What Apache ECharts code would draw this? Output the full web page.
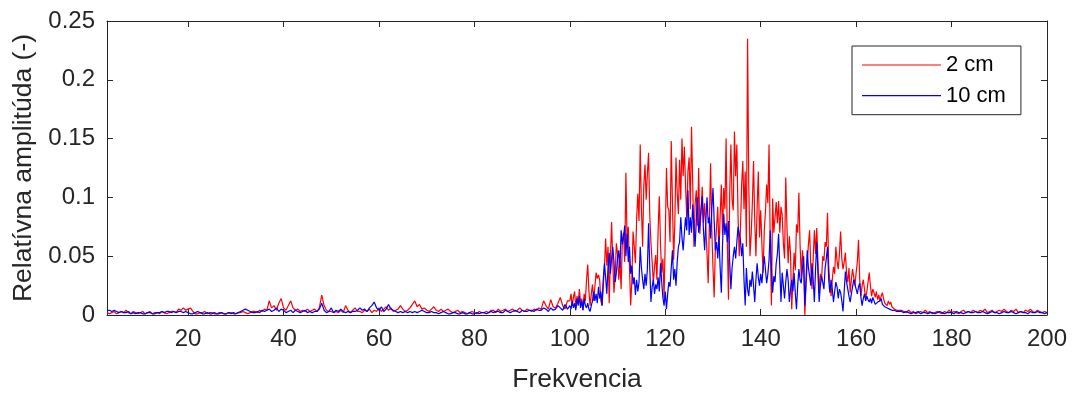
<!DOCTYPE html>
<html>
<head>
<meta charset="utf-8">
<script src="https://cdn.jsdelivr.net/npm/echarts@6/dist/echarts.min.js"></script>
<style>
html,body{margin:0;padding:0;background:#fff;}
#chart{width:1072px;height:398px;}
</style>
</head>
<body>
<div id="chart"></div>
<script>
// Frequency grids (start, step) for the three sampled segments
const lowStart = 3, lowStep = 0.5;      // 3 .. 99.5
const midStart = 100, midStep = 0.25;   // 100 .. 169.75
const highStart = 170, highStep = 0.5;  // 170 .. 200

const seriesNames = ['2 cm', '10 cm'];
const xTicks = [20, 40, 60, 80, 100, 120, 140, 160, 180, 200];
const yTicks = [0, 0.05, 0.1, 0.15, 0.2, 0.25];

// 2 cm (red)
const red2cmLow = [
0.002,0.001,0.002,0.003,0.001,0.002,0.003,0.002,0.004,0.002,0.001,0.003,0.002,0.001,0.002,0.003,0.001,0.002,0.003,0.001,
0.002,0.002,0.001,0.003,0.002,0.001,0.002,0.003,0.003,0.002,0.005,0.004,0.006,0.004,0.005,0.006,0.003,0.001,0.001,0.002,
0.002,0.003,0.001,0.002,0.002,0.001,0.001,0.002,0.002,0.001,0.001,0.002,0.002,0.001,0.001,0.002,0.002,0.003,0.002,0.001,
0.002,0.003,0.003,0.002,0.004,0.003,0.005,0.004,0.012,0.006,0.008,0.004,0.010,0.014,0.006,0.004,0.008,0.012,0.006,0.004,
0.005,0.003,0.004,0.003,0.005,0.003,0.004,0.005,0.003,0.006,0.017,0.008,0.004,0.003,0.003,0.002,0.003,0.002,0.004,0.002,
0.008,0.004,0.002,0.004,0.006,0.003,0.003,0.002,0.004,0.003,0.005,0.002,0.004,0.003,0.006,0.003,0.005,0.007,0.004,0.006,
0.003,0.004,0.005,0.008,0.005,0.003,0.004,0.006,0.009,0.012,0.007,0.009,0.005,0.006,0.004,0.003,0.005,0.007,0.004,0.003,
0.005,0.003,0.004,0.005,0.003,0.002,0.003,0.004,0.002,0.003,0.002,0.001,0.002,0.003,0.002,0.001,0.003,0.002,0.002,0.003,
0.002,0.004,0.004,0.002,0.005,0.003,0.004,0.005,0.003,0.004,0.005,0.003,0.004,0.006,0.004,0.003,0.005,0.004,0.003,0.005,
0.004,0.006,0.005,0.012,0.008,0.005,0.013,0.007,0.006,0.010,0.015,0.008,0.005,0.012
];
const red2cmMid = [
0.012,0.018,0.008,0.015, 0.020,0.006,0.016,0.010, 0.022,0.009,0.014,0.004, 0.018,0.012,0.030,0.043, 0.020,0.008,0.018,0.026,
0.012,0.024,0.036,0.031, 0.034,0.030,0.012,0.008, 0.025,0.040,0.065,0.042, 0.058,0.010,0.048,0.079, 0.045,0.019,0.034,0.061,
0.052,0.030,0.046,0.022, 0.064,0.070,0.045,0.121, 0.062,0.075,0.040,0.008, 0.030,0.071,0.058,0.044, 0.082,0.103,0.080,0.145,
0.091,0.058,0.110,0.128, 0.098,0.120,0.138,0.085, 0.061,0.045,0.027,0.041, 0.051,0.030,0.072,0.101, 0.060,0.036,0.048,0.014,
0.066,0.125,0.092,0.089, 0.062,0.148,0.096,0.047, 0.078,0.134,0.104,0.086, 0.132,0.098,0.150,0.118, 0.143,0.110,0.083,0.122,
0.134,0.090,0.160,0.112, 0.058,0.094,0.106,0.076, 0.125,0.069,0.088,0.109, 0.078,0.095,0.075,0.052, 0.027,0.080,0.129,0.072,
0.040,0.015,0.058,0.075, 0.092,0.055,0.084,0.111, 0.068,0.108,0.090,0.150, 0.062,0.013,0.102,0.145, 0.098,0.089,0.156,0.118,
0.145,0.084,0.050,0.072, 0.110,0.131,0.090,0.122, 0.058,0.235,0.112,0.050, 0.068,0.095,0.131,0.080, 0.050,0.092,0.122,0.066,
0.089,0.060,0.036,0.072, 0.088,0.111,0.095,0.145, 0.060,0.008,0.099,0.070, 0.083,0.096,0.078,0.097, 0.070,0.092,0.085,0.061,
0.048,0.117,0.075,0.044, 0.067,0.052,0.005,0.030, 0.053,0.038,0.077,0.070, 0.104,0.060,0.033,0.055, 0.042,0.000,0.025,0.044,
0.060,0.072,0.040,0.022, 0.048,0.072,0.052,0.074, 0.045,0.019,0.035,0.030, 0.050,0.046,0.062,0.058, 0.087,0.042,0.027,0.016,
0.030,0.041,0.035,0.058, 0.046,0.039,0.052,0.071, 0.048,0.039,0.045,0.053, 0.035,0.028,0.040,0.019, 0.030,0.039,0.032,0.025,
0.036,0.045,0.064,0.030, 0.016,0.025,0.030,0.022, 0.014,0.020,0.028,0.036, 0.024,0.016,0.022,0.019, 0.015,0.020,0.013,0.017,
0.012,0.016,0.019,0.014, 0.010,0.011,0.008,0.012, 0.009,0.011,0.007,0.006, 0.005,0.006,0.004,0.005, 0.004,0.003,0.004,0.003
];
const red2cmHigh = [
0.003,0.002,0.004,0.002,0.003,0.001,0.002,0.003,0.002,0.004,
0.002,0.003,0.001,0.002,0.003,0.002,0.001,0.003,0.002,0.004,
0.002,0.003,0.002,0.001,0.003,0.004,0.002,0.003,0.002,0.004,
0.003,0.002,0.004,0.003,0.005,0.002,0.003,0.004,0.002,0.003,
0.004,0.003,0.005,0.003,0.002,0.004,0.003,0.005,0.002,0.003,
0.002,0.004,0.003,0.005,0.003,0.002,0.004,0.003,0.002,0.003,
0.002
];

// 10 cm (blue)
const blue10cmLow = [
0.004,0.004,0.003,0.004,0.003,0.002,0.003,0.002,0.002,0.003,0.001,0.002,0.001,0.002,0.002,0.001,0.001,0.002,0.002,0.001,
0.001,0.002,0.002,0.003,0.002,0.003,0.003,0.002,0.003,0.002,0.003,0.003,0.002,0.003,0.002,0.001,0.001,0.002,0.003,0.002,
0.001,0.001,0.002,0.001,0.001,0.002,0.001,0.001,0.002,0.001,0.001,0.002,0.001,0.002,0.001,0.002,0.003,0.004,0.005,0.004,
0.003,0.002,0.002,0.003,0.002,0.004,0.003,0.004,0.005,0.003,0.004,0.006,0.003,0.005,0.004,0.002,0.003,0.004,0.002,0.004,
0.003,0.002,0.003,0.004,0.002,0.003,0.002,0.003,0.003,0.005,0.010,0.004,0.002,0.003,0.006,0.002,0.004,0.003,0.005,0.003,
0.002,0.003,0.002,0.003,0.003,0.004,0.006,0.004,0.005,0.003,0.006,0.008,0.011,0.006,0.004,0.007,0.003,0.005,0.009,0.005,
0.004,0.003,0.002,0.003,0.002,0.003,0.002,0.003,0.002,0.003,0.002,0.003,0.004,0.003,0.002,0.002,0.003,0.002,0.002,0.001,
0.002,0.003,0.002,0.001,0.001,0.002,0.002,0.001,0.001,0.002,0.001,0.001,0.002,0.001,0.001,0.002,0.001,0.002,0.002,0.001,
0.002,0.003,0.002,0.003,0.003,0.002,0.002,0.004,0.003,0.002,0.003,0.004,0.003,0.002,0.004,0.003,0.003,0.004,0.004,0.003,
0.005,0.004,0.004,0.006,0.005,0.003,0.006,0.004,0.005,0.008,0.006,0.004,0.009,0.005
];
const blue10cmMid = [
0.008,0.005,0.012,0.006, 0.010,0.004,0.014,0.008, 0.016,0.006,0.012,0.004, 0.014,0.008,0.006,0.010, 0.005,0.003,0.008,0.012,
0.020,0.012,0.018,0.010, 0.024,0.014,0.020,0.008, 0.030,0.044,0.032,0.018, 0.040,0.053,0.035,0.048, 0.058,0.045,0.028,0.036,
0.048,0.055,0.040,0.072, 0.060,0.066,0.076,0.050, 0.069,0.045,0.058,0.035, 0.042,0.026,0.032,0.017, 0.030,0.020,0.028,0.058,
0.040,0.030,0.022,0.035, 0.025,0.039,0.078,0.040, 0.011,0.024,0.030,0.018, 0.026,0.022,0.032,0.020, 0.044,0.028,0.015,0.008,
0.020,0.005,0.018,0.028, 0.024,0.040,0.055,0.030, 0.039,0.025,0.045,0.058, 0.062,0.083,0.066,0.055, 0.070,0.083,0.072,0.106,
0.068,0.083,0.070,0.094, 0.075,0.058,0.080,0.100, 0.070,0.078,0.090,0.101, 0.072,0.055,0.080,0.100, 0.078,0.083,0.065,0.090,
0.108,0.080,0.055,0.062, 0.048,0.067,0.040,0.019, 0.060,0.086,0.068,0.078, 0.062,0.080,0.045,0.022, 0.040,0.050,0.058,0.048,
0.062,0.075,0.076,0.064, 0.050,0.061,0.030,0.008, 0.040,0.022,0.016,0.030, 0.024,0.037,0.025,0.011, 0.030,0.044,0.032,0.025,
0.035,0.027,0.040,0.050, 0.038,0.027,0.035,0.047, 0.072,0.040,0.019,0.033, 0.028,0.044,0.052,0.069, 0.040,0.011,0.036,0.025,
0.014,0.028,0.039,0.030, 0.011,0.022,0.030,0.020, 0.036,0.018,0.005,0.025, 0.039,0.030,0.027,0.040, 0.050,0.008,0.030,0.055,
0.040,0.033,0.025,0.044, 0.030,0.011,0.040,0.062, 0.035,0.011,0.025,0.033, 0.028,0.022,0.040,0.048, 0.058,0.030,0.019,0.030,
0.022,0.011,0.020,0.028, 0.024,0.014,0.022,0.019, 0.012,0.003,0.020,0.037, 0.028,0.022,0.016,0.011, 0.018,0.024,0.030,0.026,
0.022,0.018,0.024,0.027, 0.015,0.008,0.014,0.018, 0.012,0.016,0.013,0.011, 0.014,0.010,0.015,0.012, 0.009,0.008,0.011,0.010,
0.012,0.014,0.009,0.008, 0.007,0.008,0.006,0.007, 0.005,0.006,0.004,0.005, 0.004,0.004,0.003,0.004, 0.003,0.003,0.003,0.003
];
const blue10cmHigh = [
0.002,0.003,0.002,0.001,0.002,0.002,0.003,0.001,0.002,0.002,
0.001,0.002,0.002,0.001,0.002,0.003,0.002,0.001,0.002,0.002,
0.002,0.001,0.003,0.002,0.002,0.001,0.002,0.003,0.002,0.002,
0.003,0.002,0.002,0.003,0.002,0.001,0.002,0.003,0.002,0.002,
0.001,0.002,0.003,0.002,0.002,0.003,0.002,0.001,0.002,0.003,
0.002,0.002,0.001,0.003,0.002,0.002,0.003,0.002,0.002,0.001,
0.002
];

function pairs(start, step, values) {
  return values.map((v, i) => [start + i * step, v]);
}
function build(low, mid, high) {
  return pairs(lowStart, lowStep, low)
    .concat(pairs(midStart, midStep, mid))
    .concat(pairs(highStart, highStep, high));
}
const redData = build(red2cmLow, red2cmMid, red2cmHigh);
const blueData = build(blue10cmLow, blue10cmMid, blue10cmHigh);

const AX = '#262626';
const FONT = '"Liberation Sans", Arial, Helvetica, sans-serif';

const xBase = {
  type: 'value', min: 3, max: 200, splitNumber: 10, minInterval: 20, maxInterval: 20,
  axisLine: { show: true, onZero: false, lineStyle: { color: AX, width: 1 } },
  axisTick: { show: true, inside: true, length: 6, lineStyle: { color: AX, width: 1 } },
  splitLine: { show: false }
};
const yBase = {
  type: 'value', min: 0, max: 0.25, interval: 0.05,
  axisLine: { show: true, onZero: false, lineStyle: { color: AX, width: 1 } },
  axisTick: { show: true, inside: true, length: 6, lineStyle: { color: AX, width: 1 } },
  splitLine: { show: false }
};

const chart = echarts.init(document.getElementById('chart'), null, { renderer: 'canvas' });
chart.setOption({
  animation: false,
  backgroundColor: '#fff',
  textStyle: { fontFamily: FONT },
  grid: { left: 107, top: 21, right: 25, bottom: 78.5, containLabel: false },
  legend: {
    data: seriesNames,
    orient: 'vertical',
    left: 852, top: 46,
    padding: [8, 15, 8, 10],
    icon: 'path://M0,0L79,0L79,1.2L0,1.2Z',
    itemWidth: 79, itemHeight: 22, itemGap: 8.7,
    borderColor: AX, borderWidth: 1, backgroundColor: '#fff',
    textStyle: { fontSize: 22, color: '#000', lineHeight: 22, fontFamily: FONT }
  },
  xAxis: [
    Object.assign({}, xBase, {
      position: 'bottom',
      axisLabel: {
        fontSize: 24, color: AX, margin: 12, fontFamily: FONT,
        formatter: v => (xTicks.indexOf(v) >= 0 ? String(v) : '')
      },
      name: 'Frekvencia', nameLocation: 'middle', nameGap: 51,
      nameTextStyle: { fontSize: 26.5, color: AX, fontFamily: FONT }
    }),
    Object.assign({}, xBase, { position: 'top', axisLabel: { show: false } })
  ],
  yAxis: [
    Object.assign({}, yBase, {
      position: 'left',
      axisLabel: {
        fontSize: 24, color: AX, margin: 12, fontFamily: FONT,
        formatter: v => { const t = yTicks.find(k => Math.abs(k - v) < 1e-9); return t === undefined ? '' : String(t); }
      },
      name: 'Relatívna amplitúda (-)', nameLocation: 'middle', nameGap: 62,
      nameTextStyle: { fontSize: 26.5, color: AX, fontFamily: FONT }
    }),
    Object.assign({}, yBase, { position: 'right', axisLabel: { show: false } })
  ],
  series: [
    { name: seriesNames[0], type: 'line', data: redData, xAxisIndex: 0, yAxisIndex: 0,
      symbol: 'none', showSymbol: false, sampling: null,
      lineStyle: { color: '#ff0000', width: 1.2 }, itemStyle: { color: '#ff0000' } },
    { name: seriesNames[1], type: 'line', data: blueData, xAxisIndex: 0, yAxisIndex: 0,
      symbol: 'none', showSymbol: false, sampling: null,
      lineStyle: { color: '#0000ff', width: 1.2 }, itemStyle: { color: '#0000ff' } }
  ]
});
</script>
</body>
</html>
